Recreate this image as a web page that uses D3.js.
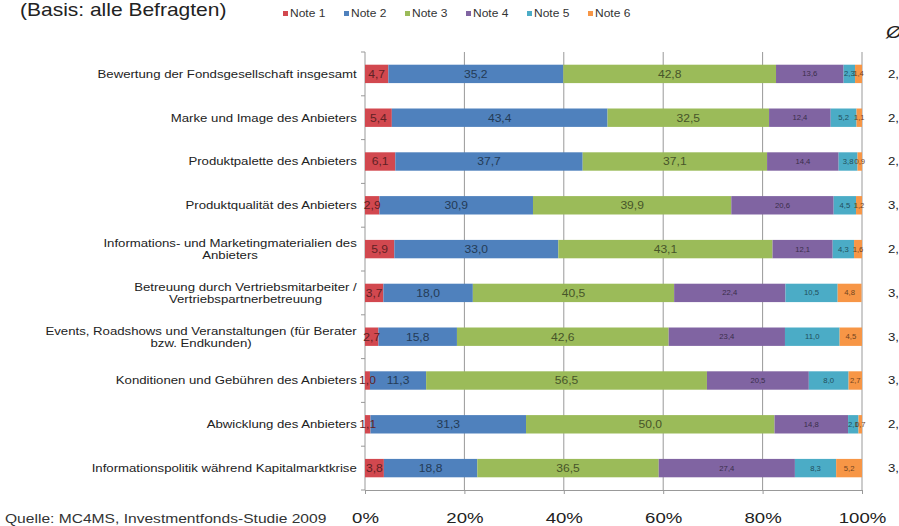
<!DOCTYPE html>
<html lang="de">
<head>
  <meta charset="UTF-8">
  <title>Bewertung der Anbieter</title>
  <script src="https://d3js.org/d3.v7.min.js"></script>
  <style>
    body { margin: 0; background: #fff; }
    text { font-family: Arial, "Liberation Sans", sans-serif; }
  </style>
</head>
<body>
  <svg id="chart" width="899" height="526"></svg>

  <script>
    // Data (percent per grade)
    const categories = [
      "Bewertung der Fondsgesellschaft insgesamt",
      "Marke und Image des Anbieters",
      "Produktpalette des Anbieters",
      "Produktqualität des Anbieters",
      "Informations- und Marketingmaterialien des\nAnbieters",
      "Betreuung durch Vertriebsmitarbeiter /\nVertriebspartnerbetreuung",
      "Events, Roadshows und Veranstaltungen (für Berater\nbzw. Endkunden)",
      "Konditionen und Gebühren des Anbieters",
      "Abwicklung des Anbieters",
      "Informationspolitik während Kapitalmarktkrise"
    ];
    const note1 = [4.7, 5.4, 6.1, 2.9, 5.9, 3.7, 2.7, 1.0, 1.1, 3.8];
    const note2 = [35.2, 43.4, 37.7, 30.9, 33.0, 18.0, 15.8, 11.3, 31.3, 18.8];
    const note3 = [42.8, 32.5, 37.1, 39.9, 43.1, 40.5, 42.6, 56.5, 50.0, 36.5];
    const note4 = [13.6, 12.4, 14.4, 20.6, 12.1, 22.4, 23.4, 20.5, 14.8, 27.4];
    const note5 = [2.3, 5.2, 3.8, 4.5, 4.3, 10.5, 11.0, 8.0, 2.1, 8.3];
    const note6 = [1.4, 1.1, 0.9, 1.2, 1.6, 4.8, 4.5, 2.7, 0.7, 5.2];
    const averages = ["2,8", "2,7", "2,7", "3,0", "2,8", "3,3", "3,4", "3,3", "2,9", "3,3"];
    const keys = ["Note 1", "Note 2", "Note 3", "Note 4", "Note 5", "Note 6"];
    const xTicks = [0, 20, 40, 60, 80, 100];

    const colors = ["#d2484f", "#4f81bd", "#9bbb59", "#8064a2", "#4bacc6", "#f79646"];
    const series = [note1, note2, note3, note4, note5, note6];

    const rows = categories.map((c, i) => {
      const r = { cat: c };
      keys.forEach((k, j) => r[k] = series[j][i]);
      return r;
    });

    const de = d3.formatLocale({ decimal: ",", thousands: ".", grouping: [3], currency: ["", "€"] });
    const fmt = de.format(".1f");

    // the original picture is a bit wider than tall, so text is stretched sideways
    const SX = 1.2;
    const stretch = (px, py) => `translate(${px},${py}) scale(${SX},1)`;

    const svg = d3.select("#chart");

    const x = d3.scaleLinear().domain([0, 100]).range([365, 862]);
    const y = d3.scaleBand().domain(categories).range([52, 490])
      .paddingInner(0.58).paddingOuter(0.29);
    const color = d3.scaleOrdinal(keys, colors);

    // Title
    svg.append("text")
      .attr("transform", stretch(20, 16))
      .style("font-size", "17.5px").attr("fill", "#222")
      .text("(Basis: alle Befragten)");

    // Legend
    const legend = svg.append("g").selectAll("g")
      .data(keys).join("g")
      .attr("transform", (d, i) => `translate(${283 + i * 61},0)`);
    legend.append("rect")
      .attr("x", 0).attr("y", 11).attr("width", 5).attr("height", 5)
      .attr("fill", d => color(d));
    legend.append("text")
      .attr("transform", stretch(7, 17))
      .style("font-size", "10px").attr("fill", "#333")
      .text(d => d);

    // Gridlines
    svg.append("g").selectAll("line")
      .data(xTicks).join("line")
      .attr("x1", d => x(d)).attr("x2", d => x(d))
      .attr("y1", 52).attr("y2", 490)
      .attr("stroke", "#999")
      .attr("stroke-width", 1);

    // Bottom axis
    const xAxis = d3.axisBottom(x).tickValues(xTicks)
      .tickFormat(d => d + "%").tickSize(4).tickPadding(0);
    const gx = svg.append("g").attr("transform", "translate(0,490)").call(xAxis);
    gx.select(".domain").attr("stroke", "#999");
    gx.selectAll(".tick line").attr("stroke", "#999");
    gx.selectAll(".tick text")
      .attr("y", null).attr("dy", null)
      .attr("transform", stretch(0, 33))
      .style("font-size", "15.5px").attr("fill", "#222")
      .style("font-family", "Arial, 'Liberation Sans', sans-serif");

    // Left tick marks at band boundaries
    const bounds = categories.map(c => y(c) - y.step() * y.paddingInner() / 2).concat([490]);
    svg.append("g").selectAll("line")
      .data(bounds).join("line")
      .attr("x1", 361).attr("x2", 365)
      .attr("y1", d => d).attr("y2", d => d)
      .attr("stroke", "#999");

    // Bars
    const stacked = d3.stack().keys(keys)(rows);
    const groups = svg.append("g").selectAll("g")
      .data(stacked).join("g")
      .attr("fill", d => color(d.key));

    groups.selectAll("rect")
      .data(d => d).join("rect")
      .attr("x", d => x(d[0]))
      .attr("y", d => y(d.data.cat))
      .attr("width", d => x(d[1]) - x(d[0]))
      .attr("height", y.bandwidth());

    // Value labels
    svg.append("g").selectAll("g")
      .data(stacked).join("g")
      .each(function (s, si) {
        d3.select(this).selectAll("text")
          .data(s).join("text")
          .attr("transform", d => `translate(${(x(d[0]) + x(d[1])) / 2},${y(d.data.cat) + y.bandwidth() / 2}) scale(1.1,1)`)
          .attr("dy", "0.35em")
          .attr("text-anchor", "middle")
          .style("font-size", si < 3 ? "11px" : "7px")
          .attr("fill", d3.color(colors[si]).darker(2.2))
          .text(d => fmt(d[1] - d[0]));
      });

    // Category labels (multi-line labels centred within a right-aligned block)
    const labels = svg.append("g").selectAll("text")
      .data(categories).join("text")
      .style("font-size", "11px").attr("fill", "#222")
      .attr("text-anchor", "middle");

    labels.each(function (c) {
      const t = d3.select(this);
      const lines = c.split("\n");
      const cy = y(c) + y.bandwidth() / 2;
      const spans = lines.map(l => t.append("tspan").text(l));
      const w = d3.max(spans, sp => sp.node().getComputedTextLength());
      const top = -(lines.length - 1) * 12 / 2;
      t.attr("transform", stretch(357, cy));
      spans.forEach((sp, i) => sp.attr("x", -w / 2).attr("y", top + i * 12).attr("dy", "0.35em"));
    });

    // Average column
    svg.append("text")
      .attr("transform", stretch(886, 38))
      .style("font-size", "17px").style("font-style", "italic").attr("fill", "#222")
      .text("Ø");
    svg.append("g").selectAll("text")
      .data(categories).join("text")
      .attr("transform", c => stretch(888, y(c) + y.bandwidth() / 2))
      .attr("dy", "0.35em")
      .style("font-size", "11px").attr("fill", "#222")
      .text((c, i) => averages[i]);

    // Source
    svg.append("text")
      .attr("transform", stretch(5, 523))
      .style("font-size", "13px").attr("fill", "#333")
      .text("Quelle: MC4MS, Investmentfonds-Studie 2009");
  </script>
</body>
</html>
